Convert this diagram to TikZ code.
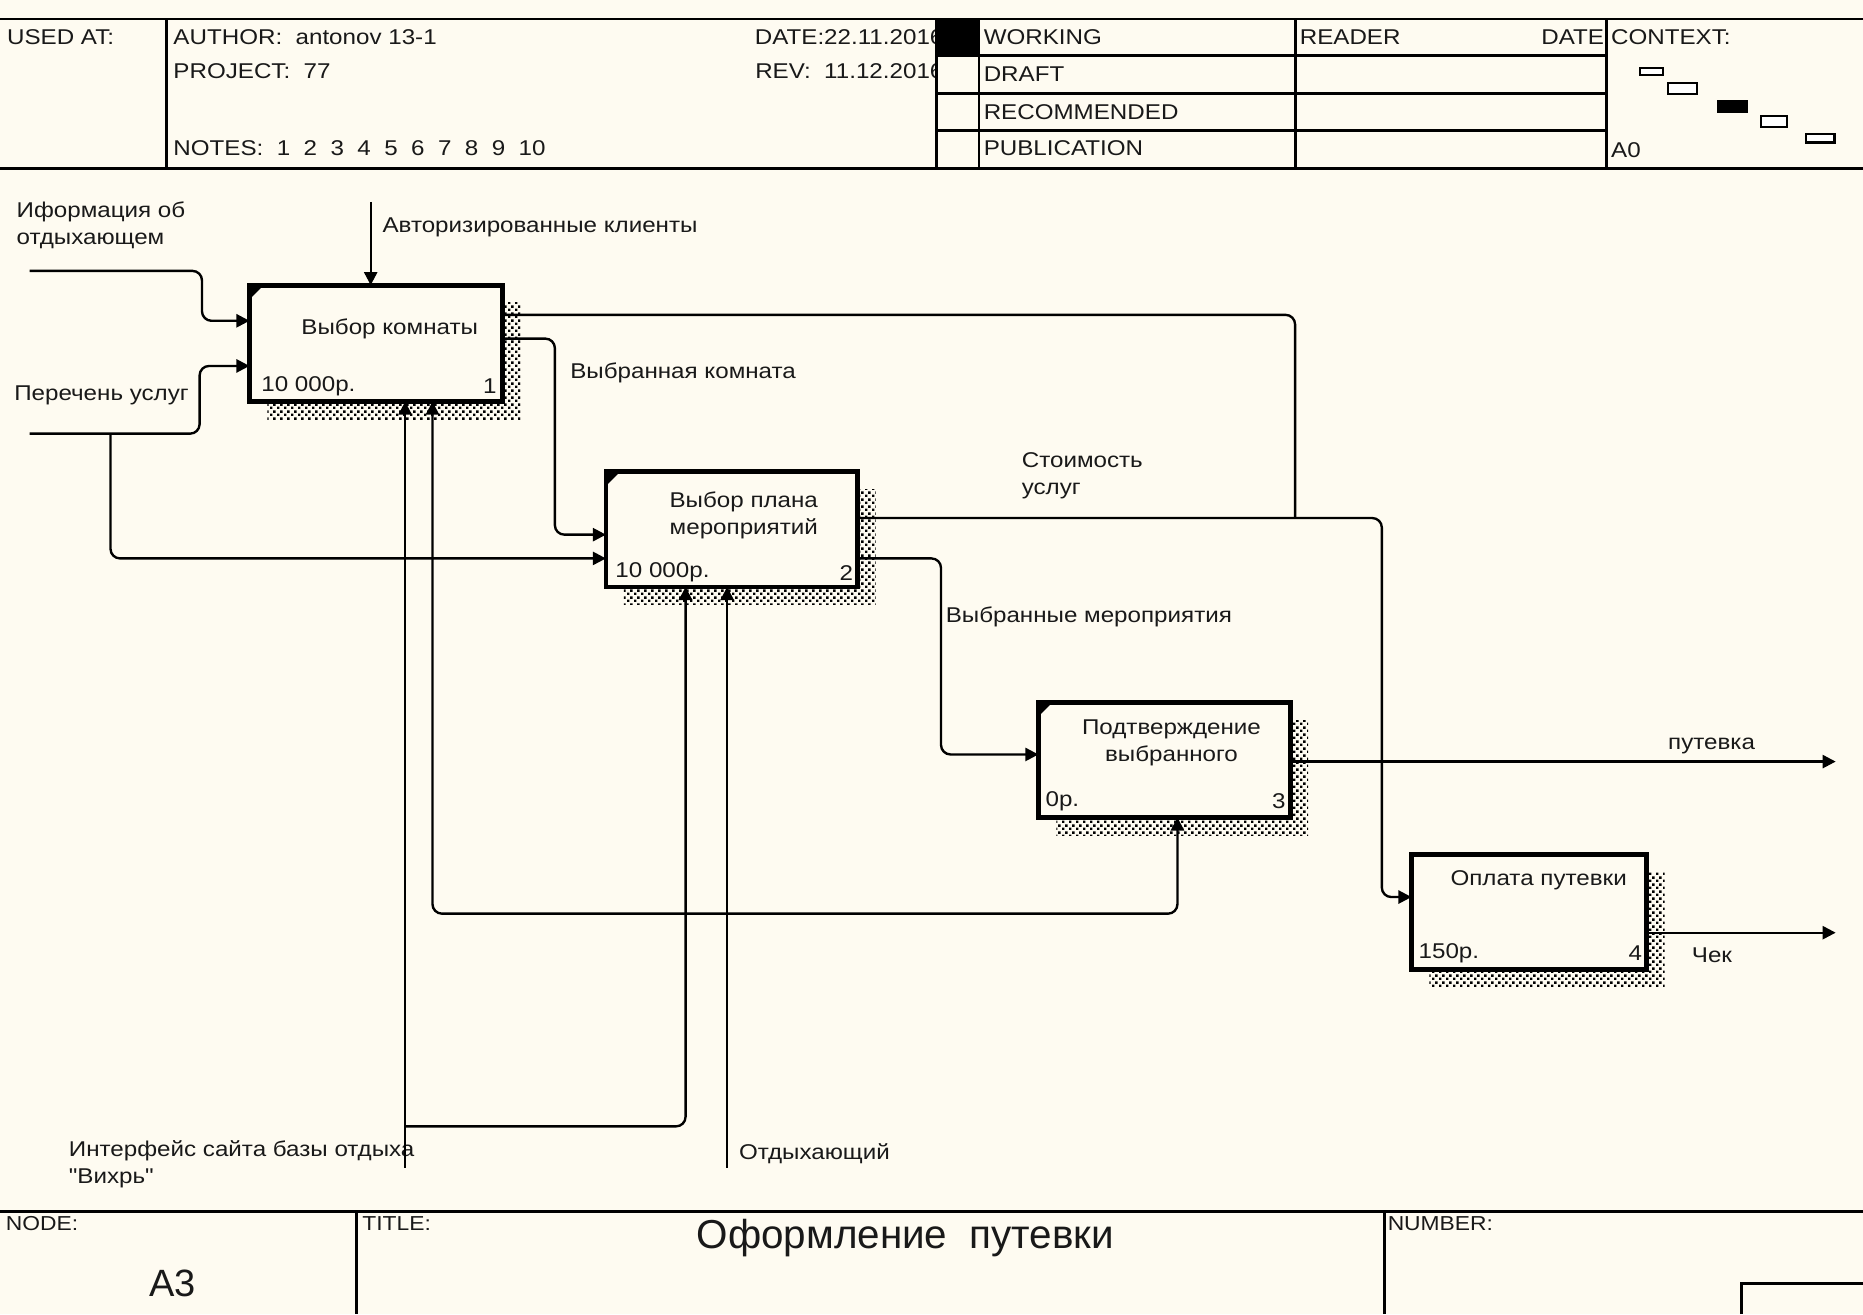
\documentclass[tikz,border=0pt]{standalone}
\usepackage{fontspec}
\setmainfont{Liberation Sans}
\newfontfamily\idefwide[FakeStretch=1.13]{Liberation Sans}
\usetikzlibrary{arrows.meta,patterns}
\definecolor{bg}{RGB}{254,251,241}
\definecolor{ink}{RGB}{25,25,25}
\pgfdeclarepatternformonly{shadedots}{\pgfpointorigin}{\pgfpoint{3pt}{3pt}}{\pgfpoint{3pt}{3pt}}{%
  \pgfpathrectangle{\pgfpointorigin}{\pgfpoint{1.1pt}{1.1pt}}%
  \pgfpathrectangle{\pgfpoint{1.5pt}{1.5pt}}{\pgfpoint{1.1pt}{1.1pt}}%
  \pgfusepath{fill}}
\begin{document}
\begin{tikzpicture}[x=0.5pt,y=-0.5pt,
  every node/.style={inner sep=0pt,outer sep=0pt,text=ink},
  lbl/.style={font=\idefwide\fontsize{9}{11.5}\selectfont,align=left,anchor=west},
  ctr/.style={font=\idefwide\fontsize{9}{11.5}\selectfont,align=center},
  rlbl/.style={font=\idefwide\fontsize{9}{11.5}\selectfont,anchor=east},
  small/.style={font=\idefwide\fontsize{8.5}{9}\selectfont,anchor=west},
  box/.style={draw,line width=2pt,fill=bg},
  flow/.style={line width=1pt,rounded corners=4pt,-{Triangle[length=5.5pt,width=5.5pt]}},
  plainline/.style={line width=1pt,rounded corners=4pt},
  shade/.style={pattern=shadedots,pattern color=black},
  frame/.style={line width=1.2pt},
  ctxbox/.style={draw,line width=0.9pt,fill=white},
]
% background / bounding box
\fill[bg] (0,0) rectangle (1568,1106);
\useasboundingbox (0,0) rectangle (1568,1106);

% ---------- header ----------
\node[lbl] (usedat) at (6,31) {USED AT:};
\node[lbl] (author) at (146,31) {AUTHOR:\ \ antonov 13-1};
\node[lbl] (project) at (146,60) {PROJECT:\ \ 77};
\node[lbl] (notes) at (146,125) {NOTES:\ \ 1\ \ 2\ \ 3\ \ 4\ \ 5\ \ 6\ \ 7\ \ 8\ \ 9\ \ 10};
\node[rlbl] (date) at (794,31) {DATE:22.11.2016};
\node[rlbl] (rev) at (794,60) {REV:\ \ 11.12.2016};
\fill[bg] (789,16) rectangle (800,142);
\node[lbl] (working) at (828,31) {WORKING};
\node[lbl] (draft) at (828,62) {DRAFT};
\node[lbl] (recom) at (828,94) {RECOMMENDED};
\node[lbl] (public) at (828,125) {PUBLICATION};
\node[lbl] (reader) at (1094,31) {READER};
\node[rlbl] (rdate) at (1350,31) {DATE};
\node[lbl] (context) at (1356,31) {CONTEXT:};
\node[lbl] (azero) at (1356,126) {A0};
\draw[frame] (0,16) -- (1568,16);
\draw[frame] (0,142) -- (1568,142);
\draw[frame] (140,16) -- (140,142);
\draw[frame] (788,16) -- (788,142);
\draw[frame] (824,16) -- (824,142);
\draw[frame] (1090,16) -- (1090,142);
\draw[frame] (1352,16) -- (1352,142);
\draw[frame] (788,47) -- (1352,47);
\draw[frame] (788,79) -- (1352,79);
\draw[frame] (788,110) -- (1352,110);
\fill[black] (788,16) rectangle (824,47);
\draw[ctxbox] (1380,57) rectangle (1400,63);
\draw[ctxbox] (1404,70) rectangle (1428,79);
\draw[ctxbox,fill=black] (1446,85) rectangle (1470,94);
\draw[ctxbox] (1482,98) rectangle (1504,107);
\draw[ctxbox] (1520,113) rectangle (1544,120);

% ---------- footer ----------
\draw[frame] (0,1020) -- (1568,1020);
\draw[frame] (300,1020) -- (300,1106);
\draw[frame] (1165,1020) -- (1165,1106);
\draw[frame] (1466,1106) -- (1466,1080) -- (1568,1080);
\node[small] (nodelbl) at (5,1030) {NODE:};
\node[small] (titlelbl) at (305,1030) {TITLE:};
\node[small] (numlbl) at (1168,1030) {NUMBER:};
\node[font=\fontsize{16}{18}\selectfont] (nodeid) at (145,1080) {A3};
\node[font=\fontsize{17}{20}\selectfont] (title) at (762,1042) {Оформление\ \ путевки};

% ---------- shadows ----------
\fill[shade] (225,255) rectangle (438,353);
\fill[shade] (525,412) rectangle (737,509);
\fill[shade] (889,606) rectangle (1101,703);
\fill[shade] (1203,734) rectangle (1401,831);

% ---------- boxes ----------
\node[box,minimum width=106.5pt,minimum height=49pt] (b1) at (316.5,289) {};
\node[box,minimum width=106pt,minimum height=48.5pt] (b2) at (616,445.5) {};
\node[box,minimum width=106pt,minimum height=48.5pt] (b3) at (980,639.5) {};
\node[box,minimum width=99pt,minimum height=48.5pt] (b4) at (1287,767.5) {};
\fill (b1.north west) -- ++(12,0) -- ++(-12,12) -- cycle;
\fill (b2.north west) -- ++(12,0) -- ++(-12,12) -- cycle;
\fill (b3.north west) -- ++(12,0) -- ++(-12,12) -- cycle;

\node[ctr] (b1t) at (328,277) {Выбор комнаты};
\node[lbl] (b1c) at (220,325) {10 000р.};
\node[rlbl] (b1n) at (418,325) {1};
\node[ctr] (b2t) at (626,434) {Выбор плана\\мероприятий};
\node[lbl] (b2c) at (518,482) {10 000р.};
\node[rlbl] (b2n) at (718,482) {2};
\node[ctr] (b3t) at (986,625) {Подтверждение\\выбранного};
\node[lbl] (b3c) at (880,674) {0р.};
\node[rlbl] (b3n) at (1082,674) {3};
\node[ctr] (b4t) at (1295,741) {Оплата путевки};
\node[lbl] (b4c) at (1194,802) {150р.};
\node[rlbl] (b4n) at (1382,802) {4};

% ---------- arrow labels ----------
\node[lbl,anchor=north west] (linfo) at (14,170) {Иформация об\\отдыхающем};
\node[lbl] (lperech) at (12,333) {Перечень услуг};
\node[lbl] (lauth) at (322,191) {Авторизированные клиенты};
\node[lbl] (lroom) at (480,314) {Выбранная комната};
\node[lbl,anchor=north west] (lcost) at (860,381) {Стоимость\\услуг};
\node[lbl] (lmer) at (796,519) {Выбранные мероприятия};
\node[lbl] (lput) at (1404,628) {путевка};
\node[lbl] (lchek) at (1424,804) {Чек};
\node[lbl,anchor=north west] (liface) at (58,960) {Интерфейс сайта базы отдыха\\{\char34}Вихрь{\char34}};
\node[lbl] (lotd) at (622,971) {Отдыхающий};

% ---------- free ends ----------
\coordinate (inInfo) at (25,228);
\coordinate (inPer) at (25,365);
\coordinate (splitPer) at (93,365);
\coordinate (inAuth) at (312,170);
\coordinate (joinCost) at (1090,436);
\coordinate (outPut) at (1545,641);
\coordinate (outChek) at (1545,785);
\coordinate (inIface) at (341,983);
\coordinate (splitIface) at (341,948);
\coordinate (inOtd) at (612,983);
\coordinate (splitOtd) at (612,769);

% ---------- connectors ----------
\draw[flow] (inInfo) -- (170,228) -- (170,270) -- (b1.west |- 0,270);
\draw[flow] (inPer) -- (168,365) -- (168,308) -- (b1.west |- 0,308);
\draw[flow] (splitPer) -- (93,470) -- (b2.west |- 0,470);
\draw[flow] (inAuth) -- (b1.north -| 312,0);
\draw[plainline] (b1.east |- 0,265) -- (1090,265) -- (joinCost);
\draw[flow] (b1.east |- 0,285) -- (467,285) -- (467,450) -- (b2.west |- 0,450);
\draw[flow] (b2.east |- 0,436) -- (1163,436) -- (1163,755) -- (b4.west |- 0,755);
\draw[flow] (b2.east |- 0,470) -- (792,470) -- (792,635) -- (b3.west |- 0,635);
\draw[flow] (b3.east |- 0,641) -- (outPut);
\draw[flow] (b4.east |- 0,785) -- (outChek);
\draw[flow] (inIface) -- (b1.south -| 341,0);
\draw[flow] (splitIface) -- (577,948) -- (b2.south -| 577,0);
\draw[flow] (inOtd) -- (b2.south -| 612,0);
\draw[flow] (splitOtd) -- (364,769) -- (b1.south -| 364,0);
\draw[flow] (splitOtd) -- (991,769) -- (b3.south -| 991,0);
\end{tikzpicture}
\end{document}
